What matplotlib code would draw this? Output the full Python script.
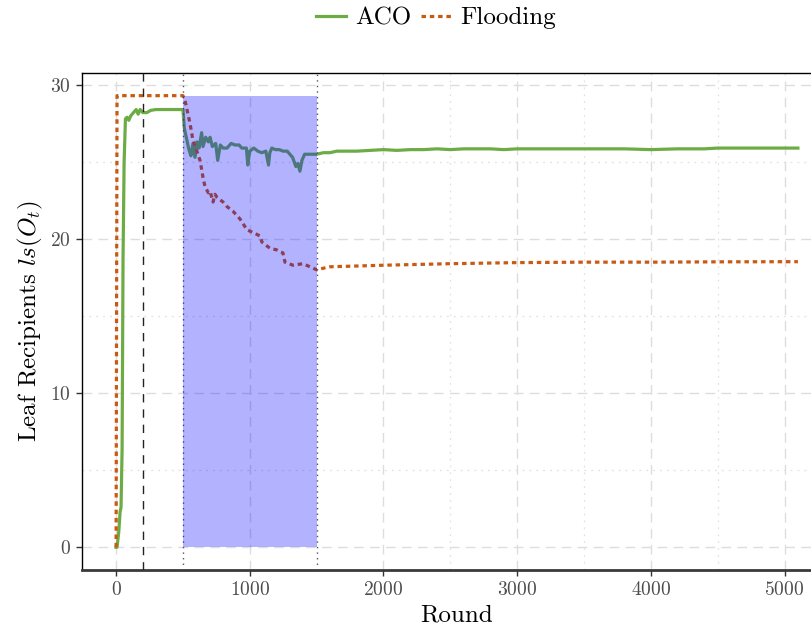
import matplotlib
matplotlib.use("Agg")
import matplotlib.pyplot as plt
from matplotlib.lines import Line2D

plt.rcParams["font.family"] = ["cmr10", "DejaVu Serif"]
plt.rcParams["mathtext.fontset"] = "cm"
plt.rcParams["axes.formatter.use_mathtext"] = True

# ACO: leaf recipients per round
aco_rounds = [0, 7, 20, 30, 37, 45, 52, 60, 70, 82, 95, 110, 130, 150, 165, 180, 200, 230, 260,
              300, 400, 500, 510, 530, 545, 560, 575, 590, 605, 620, 640, 650, 670, 690, 703,
              720, 745, 760, 780, 800, 830, 860, 890, 920, 940, 960, 975, 985, 1000, 1030,
              1060, 1090, 1120, 1140, 1150, 1165, 1190, 1220, 1250, 1280, 1320, 1345, 1360,
              1375, 1390, 1410, 1440, 1470, 1500, 1550, 1600, 1650, 1700, 1800, 1900, 2000,
              2100, 2200, 2300, 2400, 2500, 2600, 2700, 2800, 2900, 3000, 3200, 3400, 3600,
              3800, 4000, 4200, 4400, 4500, 4700, 4900, 5100]
aco_values = [0.0, 0.0, 1.0, 2.3, 2.6, 6.4, 18.7, 25.0, 27.8, 27.9, 27.7, 28.0, 28.2, 28.4,
              28.1, 28.4, 28.2, 28.2, 28.35, 28.4, 28.4, 28.4, 27.2, 26.4, 25.8, 25.4, 26.2,
              25.3, 26.3, 25.9, 26.9, 26.0, 26.6, 26.3, 26.6, 26.0, 26.2, 25.1, 26.1, 25.9,
              25.9, 26.2, 26.1, 26.1, 25.9, 25.9, 25.9, 24.8, 25.7, 25.9, 25.7, 25.6, 25.7,
              24.8, 25.6, 25.9, 25.8, 25.8, 25.7, 25.7, 25.3, 24.7, 24.9, 24.4, 25.1, 25.5,
              25.5, 25.5, 25.5, 25.6, 25.6, 25.7, 25.7, 25.7, 25.75, 25.8, 25.75, 25.8, 25.8,
              25.85, 25.8, 25.85, 25.85, 25.85, 25.8, 25.85, 25.85, 25.85, 25.85, 25.85,
              25.8, 25.85, 25.85, 25.9, 25.9, 25.9, 25.9]

# Flooding: leaf recipients per round
flood_rounds = [0, 7, 100, 300, 500, 515, 553, 575, 600, 628, 650, 665, 690, 703, 725, 740,
                755, 800, 830, 875, 927, 979, 1030, 1076, 1091, 1151, 1200, 1248, 1263, 1323,
                1398, 1450, 1502, 1547, 1600, 1800, 2000, 2500, 3000, 3500, 4000, 4500, 5100]
flood_values = [0.0, 29.3, 29.3, 29.3, 29.3, 29.0, 27.5, 26.4, 25.8, 25.1, 24.0, 23.4, 23.0,
                23.1, 22.4, 22.9, 22.7, 22.4, 22.1, 21.8, 21.3, 20.6, 20.4, 20.2, 19.8, 19.4,
                19.3, 19.1, 18.5, 18.3, 18.4, 18.2, 18.0, 18.1, 18.2, 18.25, 18.3, 18.4, 18.47,
                18.5, 18.5, 18.52, 18.53]

# Marker rounds and the highlighted interval
warmup_round = 200
interval_start, interval_end = 500, 1500
interval_top = 29.3

green = "#6DAC45"
orange = "#C95A12"

fig = plt.figure(figsize=(8.12, 6.32), dpi=100)
ax = fig.add_axes([82 / 812, 1 - 570 / 632, (832 - 82) / 812, (570 - 73) / 632])

ax.set_xlim(-255, 5355)
ax.set_ylim(-1.47, 30.77)

# grid
major_grid = dict(color="#dddddd", lw=1.0, ls=(0, (7, 4.5)), zorder=0)
minor_grid = dict(color="#e2e2e2", lw=0.9, ls=(0, (1.5, 4)), zorder=0)
for v in [0, 10, 20, 30]:
    ax.axhline(v, **major_grid)
for v in [5, 15, 25]:
    ax.axhline(v, **minor_grid)
for v in [0, 1000, 2000, 3000, 4000, 5000]:
    ax.axvline(v, **major_grid)
for v in [2500, 3500, 4500]:
    ax.axvline(v, **minor_grid)

ax.plot(aco_rounds, aco_values, color=green, lw=2.3, solid_joinstyle="round", zorder=3)
ax.plot(flood_rounds, flood_values, color=orange, lw=2.3, ls=(0, (1.4, 1.2)), zorder=3)

ax.axvline(warmup_round, color="#222222", lw=1.0, ls=(0, (6, 5)), zorder=4)
ax.axvline(interval_start, color="#555555", lw=1.0, ls=(0, (1, 3)), zorder=4)
ax.axvline(interval_end, color="#555555", lw=1.0, ls=(0, (1, 3)), zorder=4)
ax.fill_between([interval_start, interval_end], 0, interval_top, color="blue", alpha=0.3,
                lw=0, zorder=5)

ax.set_xticks([0, 1000, 2000, 3000, 4000, 5000])
ax.set_yticks([0, 10, 20, 30])
ax.tick_params(axis="both", labelsize=14, labelcolor="#4d4d4d", color="#333333",
               length=4.5, width=1.0, direction="out")
for s in ["left", "top", "right"]:
    ax.spines[s].set_color("black")
    ax.spines[s].set_linewidth(1.0)
ax.spines["bottom"].set_color("#3a3a3a")
ax.spines["bottom"].set_linewidth(2.0)

ax.set_xlabel("Round", fontsize=18, labelpad=4)
ax.set_ylabel(r"Leaf Recipients $ls(O_t)$", fontsize=18, labelpad=4)

handles = [Line2D([], [], color=green, lw=2.3),
           Line2D([], [], color=orange, lw=2.3, ls=(0, (1.4, 1.2)))]
fig.legend(handles, ["ACO", "Flooding"], loc="center", bbox_to_anchor=(436 / 812, 1 - 18 / 632),
           ncol=2, frameon=False, fontsize=18, handlelength=1.2, handletextpad=0.35,
           columnspacing=0.4)

fig.savefig("out.png", dpi=100)
